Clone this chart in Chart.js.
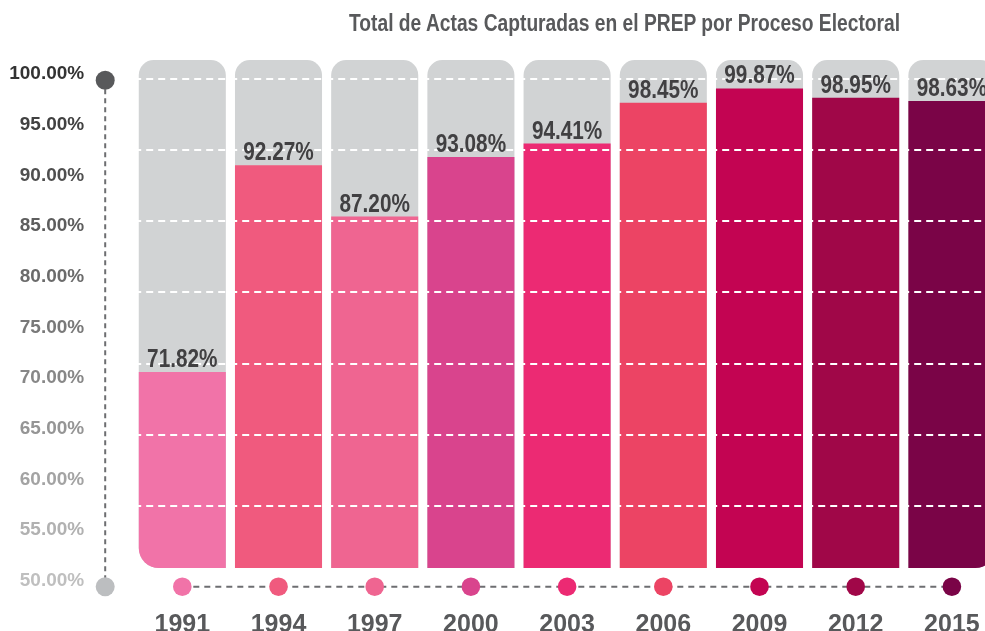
<!DOCTYPE html>
<html>
<head>
<meta charset="utf-8">
<script src="https://cdn.jsdelivr.net/npm/chart.js@4.4.0/dist/chart.umd.min.js"></script>
<style>
    body { margin: 0; background: #fff; overflow: hidden; }
    #wrap { position: absolute; left: 0; top: 0; width: 1000px; height: 631px; }
    #title {
        position: absolute; left: 349px; top: 10px;
        font: bold 23px 'Liberation Sans', Arial, sans-serif;
        color: #58595b; white-space: nowrap; transform-origin: 0 0;
    }
</style>
</head>
<body>
<div id="wrap">
    <canvas id="prep_chart" width="1000" height="631"></canvas>
    <div id="title">Total de Actas Capturadas en el PREP por Proceso Electoral</div>
</div>
<script>
const years = ['1991', '1994', '1997', '2000', '2003', '2006', '2009', '2012', '2015'];
const captured = [71.82, 92.27, 87.20, 93.08, 94.41, 98.45, 99.87, 98.95, 98.63];
const barColors = ['#f173a8', '#f05a7e', '#ef6591', '#d9448d', '#ec2a73', '#ec4464', '#c30452', '#a00748', '#7a0447'];
const yTicks = [50, 55, 60, 65, 70, 75, 80, 85, 90, 95, 100];

const FONT = "'Liberation Sans', Arial, sans-serif";
const BAR_MIN = 49.57, BAR_MAX = 102.68, BAR_BASE = 52.43;

// squeeze the title to the condensed width of the original
const title = document.getElementById('title');
title.style.transform = `scaleX(${551 / title.offsetWidth})`;

function tickGrey(v) {
    const g = Math.round(0x33 + (100 - v) / 50 * (0xbf - 0x33));
    return `rgb(${g},${g},${g})`;
}

const decorations = {
    id: 'decorations',
    afterDraw(chart) {
        const ctx = chart.ctx;
        const x = chart.scales.x;
        const y = chart.scales.y;
        const yb = chart.scales.yb;
        const axisX = chart.chartArea.left - 29;
        const topY = y.getPixelForValue(100) + 6;
        const baseY = y.getPixelForValue(50) + 6;

        ctx.save();
        ctx.lineWidth = 2;
        ctx.strokeStyle = '#6d6e71';
        ctx.setLineDash([5, 4]);
        ctx.beginPath();
        ctx.moveTo(axisX, topY);
        ctx.lineTo(axisX, baseY);
        ctx.stroke();
        ctx.setLineDash([6, 5]);
        ctx.beginPath();
        ctx.moveTo(x.getPixelForValue(0), baseY);
        ctx.lineTo(x.getPixelForValue(years.length - 1), baseY);
        ctx.stroke();
        ctx.setLineDash([]);

        ctx.fillStyle = '#58595b';
        ctx.beginPath(); ctx.arc(axisX, topY, 9.5, 0, Math.PI * 2); ctx.fill();
        ctx.fillStyle = '#bcbec0';
        ctx.beginPath(); ctx.arc(axisX, baseY, 9.5, 0, Math.PI * 2); ctx.fill();

        years.forEach((yr, i) => {
            ctx.fillStyle = barColors[i];
            ctx.beginPath();
            ctx.arc(x.getPixelForValue(i), baseY, 9.3, 0, Math.PI * 2);
            ctx.fill();
        });

        // value labels, condensed horizontally
        ctx.fillStyle = '#414042';
        ctx.font = 'bold 25px ' + FONT;
        ctx.textAlign = 'center';
        ctx.textBaseline = 'alphabetic';
        captured.forEach((v, i) => {
            ctx.save();
            ctx.translate(x.getPixelForValue(i), yb.getPixelForValue(v) - 5);
            ctx.scale(0.83, 1);
            ctx.fillText(v.toFixed(2) + '%', 0, 0);
            ctx.restore();
        });
        ctx.restore();
    }
};

new Chart(document.getElementById('prep_chart'), {
    type: 'bar',
    data: {
        labels: years,
        datasets: [{
            label: 'Actas capturadas',
            data: captured,
            yAxisID: 'yb',
            base: BAR_BASE,
            grouped: false,
            order: 1,
            backgroundColor: barColors,
            borderSkipped: false,
            borderRadius: ctx => ({ topLeft: 0, topRight: 0, bottomLeft: ctx.dataIndex === 0 ? 20 : 0, bottomRight: ctx.dataIndex === years.length - 1 ? 20 : 0 }),
            barPercentage: 0.905,
            categoryPercentage: 1
        }, {
            label: 'Total',
            data: years.map(() => BAR_MAX),
            yAxisID: 'yb',
            base: BAR_BASE,
            grouped: false,
            order: 2,
            backgroundColor: '#d1d3d4',
            borderSkipped: false,
            borderRadius: ctx => ({ topLeft: 15, topRight: 15, bottomLeft: ctx.dataIndex === 0 ? 20 : 0, bottomRight: ctx.dataIndex === years.length - 1 ? 20 : 0 }),
            barPercentage: 0.905,
            categoryPercentage: 1
        }]
    },
    options: {
        responsive: false,
        animation: false,
        devicePixelRatio: 1,
        layout: { padding: { top: 60, left: 0, right: 0, bottom: 0 } },
        plugins: {
            legend: { display: false },
            tooltip: { enabled: false }
        },
        scales: {
            x: {
                grid: { display: false },
                border: { display: false },
                ticks: { color: '#58595b', font: { family: FONT, size: 25, weight: 'bold' }, padding: 5, maxRotation: 0 },
                afterFit: s => { s.height = 34; s.paddingLeft = 0; s.paddingRight = 0; }
            },
            y: {
                position: 'left',
                min: 48.39,
                max: 101.40,
                grid: { display: false, drawTicks: false },
                border: { display: false },
                afterBuildTicks: s => { s.ticks = yTicks.map(v => ({ value: v })); },
                ticks: {
                    padding: 50,
                    font: { family: FONT, size: 19, weight: 'bold' },
                    color: c => tickGrey(c.tick.value),
                    callback: v => v.toFixed(2) + '%'
                },
                afterFit: s => { s.width = 134.2; s.paddingTop = 0; s.paddingBottom = 0; }
            },
            yb: {
                display: false,
                min: BAR_MIN,
                max: BAR_MAX
            },
            yg: {
                position: 'right',
                min: -1.279,
                max: 6.267,
                afterBuildTicks: s => { s.ticks = [0, 1, 2, 3, 4, 5, 6].map(v => ({ value: v })); },
                ticks: { display: false },
                grid: { color: '#ffffff', lineWidth: 2, drawTicks: false, z: 1 },
                border: { display: false, dash: [7, 5] },
                afterFit: s => { s.width = 0; s.paddingTop = 0; s.paddingBottom = 0; }
            }
        }
    },
    plugins: [decorations]
});
</script>
</body>
</html>
